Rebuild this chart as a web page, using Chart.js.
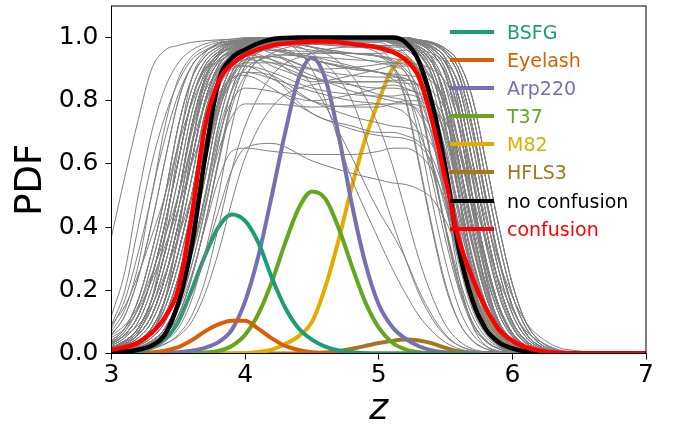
<!DOCTYPE html>
<html>
<head>
<meta charset="utf-8">
<script src="https://cdn.jsdelivr.net/npm/chart.js@4.4.1/dist/chart.umd.min.js"></script>
<style>
  body{margin:0;background:#fff;}
  #wrap{position:relative;width:678px;height:428px;}
  #legend{position:absolute;left:450px;top:0;font-family:'DejaVu Sans',sans-serif;font-size:19px;}
  .row{position:absolute;left:0;height:28px;white-space:nowrap;}
  .row i{position:absolute;left:0;width:44px;height:4px;top:12px;}
  .row span{position:absolute;left:57px;top:0;line-height:28px;}
</style>
</head>
<body>
<div id="wrap">
  <canvas id="chart" width="678" height="428"></canvas>
  <div id="legend"></div>
</div>
<script>
//#region data
// z grid for the source curves
var zFine = [3.0,3.1,3.2,3.3,3.4,3.5,3.6,3.7,3.8,3.9,4.0,4.1,4.2,4.3,4.4,4.5,4.6,4.7,4.8,4.9,5.0,5.1,5.2,5.3,5.4,5.5,5.6,5.7,5.8,5.9,6.0,6.1,6.2,6.3,6.4,6.5,6.6,6.7,6.8,6.9,7.0]

var seriesNames = ['BSFG', 'Eyelash', 'Arp220', 'T37', 'M82', 'HFLS3', 'no confusion', 'confusion']
var seriesColors = ['#1b9e77', '#d95f02', '#7570b3', '#66a61e', '#e6ab02', '#a6761d', '#000000', '#ff0000']

var bsfg    = [0,.002,.006,.018,.045,.1,.2,.31,.4,.44,.42,.35,.24,.145,.08,.044,.022,.01,.004,.001,0,0,0,0,0,0,0,0,0,0,0,0,0,0,0,0,0,0,0,0,0]
var eyelash = [0,0,.001,.003,.009,.02,.042,.07,.092,.104,.104,.078,.048,.024,.011,.004,.001,0,0,0,0,0,0,0,0,0,0,0,0,0,0,0,0,0,0,0,0,0,0,0,0]
var arp220  = [0,0,0,.001,.002,.004,.009,.018,.036,.075,.165,.31,.5,.7,.87,.936,.87,.69,.47,.285,.155,.085,.047,.023,.01,.004,.001,0,0,0,0,0,0,0,0,0,0,0,0,0,0]
var t37     = [0,0,0,0,0,0,.001,.003,.008,.024,.059,.126,.227,.35,.459,.513,.49,.397,.275,.162,.082,.035,.013,.004,.001,0,0,0,0,0,0,0,0,0,0,0,0,0,0,0,0]
var m82     = [0,0,0,0,0,0,0,0,0,0,.001,.005,.012,.03,.055,.1,.21,.36,.53,.68,.8,.9,.935,.885,.76,.57,.345,.2,.11,.055,.025,.011,.004,.001,0,0,0,0,0,0,0]
var hfls3   = [0,0,0,0,0,0,0,0,0,0,0,0,0,0,0,.001,.003,.008,.015,.024,.033,.04,.044,.041,.032,.018,.007,.002,0,0,0,0,0,0,0,0,0,0,0,0,0]
var noConf  = [.003,.006,.012,.025,.06,.16,.34,.62,.86,.935,.962,.982,.995,.999,1,1,1,1,1,1,1,1,.985,.925,.79,.585,.33,.17,.078,.035,.016,.006,.002,.001,0,0,0,0,0,0,0]
var conf    = [.012,.02,.035,.065,.115,.205,.435,.72,.86,.915,.945,.963,.975,.981,.985,.988,.988,.985,.98,.975,.968,.955,.93,.875,.735,.55,.36,.24,.145,.076,.04,.02,.009,.003,.001,0,0,0,0,0,0]

// z grid for the grey realisations
var zGray = [3.0,3.1,3.2,3.3,3.4,3.5,3.6,3.7,3.8,3.9,4.0,4.2,4.5,4.8,5.0,5.1,5.2,5.3,5.4,5.5,5.6,5.7,5.8,5.9,6.0,6.1,6.2,6.4,7.0]

var grayCurves = [
  [.04,.08,.17,.32,.5,.72,.87,.94,.97,.985,.99,1,1,1,1,.99,.98,.95,.88,.72,.5,.3,.15,.065,.025,.008,.003,0,0],
  [.03,.06,.12,.24,.41,.61,.8,.91,.955,.98,.988,.995,1,1,1,1,.99,.98,.95,.88,.72,.5,.3,.15,.065,.025,.008,.001,0],
  [.02,.04,.08,.17,.32,.5,.72,.87,.94,.97,.985,.995,1,1,1,.993,.985,.965,.92,.81,.61,.4,.22,.1,.042,.015,.005,.001,0],
  [.014,.03,.06,.12,.24,.41,.61,.8,.91,.955,.98,.995,1,1,1,1,.993,.985,.965,.92,.81,.61,.4,.22,.1,.042,.015,.002,0],
  [.01,.02,.04,.08,.17,.32,.5,.72,.87,.94,.97,.99,1,1,1,1,1,.99,.98,.95,.88,.72,.5,.3,.15,.065,.025,.003,0],
  [.03,.06,.12,.24,.41,.61,.8,.9,.945,.965,.975,.98,.98,.98,.975,.965,.945,.9,.79,.6,.39,.215,.1,.041,.015,.005,.002,0,0],
  [.02,.04,.08,.17,.32,.5,.72,.87,.94,.97,.985,.995,1,1,1,1,1,.99,.98,.95,.88,.72,.5,.3,.15,.065,.025,.003,0],
  [.014,.03,.06,.12,.24,.41,.61,.8,.91,.955,.98,.99,.995,.995,.995,.985,.975,.945,.875,.715,.5,.3,.15,.065,.025,.008,.003,0,0],
  [.01,.02,.04,.08,.17,.32,.5,.72,.87,.94,.97,.99,1,1,1,1,.99,.98,.95,.88,.72,.5,.3,.15,.065,.025,.008,.001,0],
  [.007,.014,.03,.06,.12,.24,.41,.61,.8,.91,.955,.985,1,1,1,1,.993,.985,.965,.92,.81,.61,.4,.22,.1,.042,.015,.002,0],
  [.04,.08,.17,.32,.5,.72,.87,.94,.97,.985,.99,1,1,1,1,1,1,.993,.985,.965,.92,.81,.61,.4,.22,.1,.042,.006,0],
  [.02,.04,.08,.17,.32,.5,.72,.87,.94,.97,.985,.99,.99,.99,.99,.98,.95,.88,.72,.5,.3,.15,.065,.025,.008,.003,.001,0,0],
  [.014,.03,.06,.12,.24,.41,.61,.8,.91,.955,.98,.995,1,1,1,1,.99,.98,.95,.88,.72,.5,.3,.15,.065,.025,.008,.001,0],
  [.01,.02,.04,.08,.17,.32,.5,.72,.87,.94,.97,.99,.995,1,1,.993,.985,.965,.92,.81,.61,.4,.22,.1,.042,.015,.005,.001,0],
  [.007,.014,.03,.06,.12,.24,.41,.61,.8,.91,.955,.985,.995,1,1,.99,.98,.95,.88,.72,.5,.3,.15,.065,.025,.008,.003,0,0],
  [.005,.01,.02,.04,.08,.17,.32,.5,.72,.87,.94,.98,.995,1,1,1,.99,.98,.95,.88,.72,.5,.3,.15,.065,.025,.008,.001,0],
  [.03,.06,.12,.24,.41,.61,.8,.91,.955,.98,.988,1,1,1,1,1,.993,.985,.965,.92,.81,.61,.4,.22,.1,.042,.015,.002,0],
  [.06,.12,.24,.41,.61,.8,.91,.955,.98,.988,.993,1,1,1,1,.993,.985,.965,.92,.81,.61,.4,.22,.1,.042,.015,.005,.001,0],
  [.02,.04,.08,.17,.32,.5,.72,.87,.94,.97,.985,.995,.995,.995,1,.99,.98,.95,.88,.72,.5,.3,.15,.065,.025,.008,.003,0,0],
  [.014,.03,.06,.12,.24,.41,.61,.8,.91,.955,.98,.995,1,1,1,1,1,.99,.98,.95,.88,.72,.5,.3,.15,.065,.025,.003,0],
  [.01,.02,.04,.08,.17,.32,.5,.72,.87,.94,.97,.99,.99,.99,.99,.985,.965,.92,.81,.61,.4,.22,.1,.042,.015,.005,.002,0,0],
  [.007,.014,.03,.06,.12,.24,.41,.61,.8,.91,.955,.985,1,1,1,1,1,.99,.98,.95,.88,.72,.5,.3,.15,.065,.025,.003,0],
  [.005,.01,.02,.04,.08,.17,.32,.5,.72,.87,.94,.98,.99,.995,.995,.993,.985,.965,.92,.81,.61,.4,.22,.1,.042,.015,.005,.001,0],
  [.08,.17,.32,.5,.72,.87,.94,.97,.985,.99,.995,1,1,1,1,1,.99,.98,.95,.88,.72,.5,.3,.15,.065,.025,.008,.001,0],
  [.04,.08,.17,.32,.5,.72,.87,.94,.97,.985,.99,1,1,1,1,1,.993,.985,.965,.92,.81,.61,.4,.22,.1,.042,.015,.002,0],
  [.004,.007,.014,.03,.06,.12,.24,.41,.61,.8,.91,.97,.99,1,1,1,.993,.985,.965,.92,.81,.61,.4,.22,.1,.042,.015,.002,0],
  [.02,.04,.08,.17,.32,.5,.72,.87,.94,.97,.985,1,1,1,1,1,.99,.98,.95,.88,.72,.5,.3,.15,.065,.025,.008,.001,0],
  [.014,.03,.06,.12,.24,.41,.61,.8,.91,.955,.98,.995,1,1,1,.993,.985,.965,.92,.81,.61,.4,.22,.1,.042,.015,.005,.001,0],
  [.03,.06,.12,.24,.41,.61,.8,.91,.955,.98,.988,.99,.99,.985,.985,.965,.92,.81,.61,.4,.22,.1,.042,.015,.005,.002,.001,0,0],
  [.01,.02,.04,.08,.17,.32,.5,.72,.87,.94,.97,.99,1,1,1,1,.993,.985,.965,.92,.81,.61,.4,.22,.1,.042,.015,.002,0],
  [.007,.014,.03,.06,.12,.24,.41,.61,.8,.91,.955,.985,1,1,1,1,1,.993,.985,.965,.92,.81,.61,.4,.22,.1,.042,.006,0],
  [.03,.06,.12,.24,.41,.61,.8,.91,.955,.98,.988,1,1,1,1,1,1,.99,.98,.95,.88,.72,.5,.3,.15,.065,.025,.003,0],
  [.02,.04,.08,.17,.32,.5,.72,.87,.94,.97,.985,.995,1,1,1,1,.993,.985,.965,.92,.81,.61,.4,.22,.1,.042,.015,.002,0],
  [.004,.007,.014,.03,.06,.12,.24,.41,.61,.8,.91,.97,.99,1,1,1,1,.993,.985,.965,.92,.81,.61,.4,.22,.1,.042,.006,0],
  [.02,.04,.08,.17,.32,.5,.72,.86,.93,.96,.975,.96,.93,.9,.89,.88,.87,.845,.78,.64,.445,.27,.13,.058,.022,.007,.003,0,0],
  [.014,.03,.06,.12,.24,.41,.61,.79,.89,.93,.945,.93,.88,.83,.81,.8,.79,.77,.7,.55,.36,.2,.09,.038,.014,.005,.002,0,0],
  [.01,.02,.04,.08,.17,.32,.5,.7,.85,.91,.93,.92,.87,.85,.84,.84,.835,.825,.8,.74,.6,.42,.25,.125,.055,.021,.007,.001,0],
  [.007,.014,.03,.06,.12,.24,.41,.6,.77,.86,.89,.87,.83,.8,.79,.78,.76,.7,.58,.4,.24,.12,.052,.02,.006,.002,.001,0,0],
  [.005,.01,.02,.04,.08,.17,.32,.49,.68,.8,.84,.83,.8,.82,.84,.85,.84,.82,.78,.69,.52,.34,.19,.085,.036,.013,.004,.001,0],
  [.03,.06,.12,.24,.41,.61,.8,.9,.945,.965,.97,.965,.93,.905,.89,.87,.83,.73,.55,.36,.2,.09,.038,.014,.005,.002,.001,0,0],
  [.02,.04,.08,.17,.32,.5,.71,.85,.92,.95,.96,.96,.955,.95,.94,.91,.845,.69,.48,.29,.145,.062,.024,.008,.003,.001,0,0,0],
  [.014,.03,.06,.12,.24,.41,.61,.8,.91,.955,.98,.99,.985,.98,.965,.92,.81,.61,.4,.22,.1,.042,.015,.005,.002,.001,0,0,0],
  [.01,.02,.04,.08,.17,.32,.5,.71,.86,.93,.94,.88,.76,.72,.7,.7,.69,.67,.62,.5,.35,.21,.1,.045,.017,.006,.002,0,0],
  [.003,.006,.012,.025,.05,.1,.19,.31,.45,.58,.65,.665,.61,.57,.55,.54,.535,.52,.49,.42,.32,.2,.1,.045,.018,.006,.002,0,0],
  [.004,.008,.016,.035,.07,.14,.25,.4,.55,.64,.65,.64,.63,.63,.64,.65,.65,.63,.58,.48,.35,.22,.11,.05,.02,.007,.002,0,0],
  [.014,.03,.06,.12,.24,.41,.61,.8,.91,.955,.98,.99,.9,.55,.36,.27,.19,.12,.07,.035,.015,.006,.002,0,0,0,0,0,0],
  [.01,.02,.04,.08,.17,.32,.5,.72,.87,.94,.97,.98,.95,.8,.55,.42,.3,.19,.11,.055,.025,.01,.003,0,0,0,0,0,0],
  [.02,.04,.08,.17,.32,.5,.72,.87,.94,.97,.985,.99,.97,.88,.72,.6,.45,.3,.18,.09,.04,.015,.005,0,0,0,0,0,0],
  [.007,.014,.03,.06,.12,.24,.41,.61,.79,.89,.93,.94,.85,.62,.45,.38,.3,.2,.12,.06,.025,.01,.003,0,0,0,0,0,0],
  [.37,.56,.74,.9,.96,.975,.985,.99,.993,.995,.997,1,1,1,1,.99,.98,.95,.88,.72,.5,.3,.15,.065,.025,.008,.003,0,0],
  [.09,.2,.4,.6,.75,.86,.93,.96,.98,.99,.995,1,1,1,1,1,.99,.98,.95,.88,.72,.5,.3,.15,.065,.025,.008,.001,0],
  [.07,.14,.28,.5,.68,.82,.91,.955,.975,.985,.99,.99,.98,.97,.965,.955,.935,.895,.79,.59,.39,.215,.1,.041,.015,.005,.002,0,0],
  [.12,.26,.5,.7,.84,.92,.96,.98,.99,.995,1,1,1,1,1,.993,.985,.965,.92,.81,.61,.4,.22,.1,.042,.015,.005,.001,0],
  [.06,.12,.24,.41,.61,.8,.91,.955,.98,.988,.99,.99,.97,.95,.94,.93,.9,.835,.685,.475,.285,.14,.062,.024,.008,.003,.001,0,0],
  [.002,.004,.008,.015,.03,.06,.12,.23,.4,.58,.72,.88,.95,.97,.97,.97,.97,.96,.95,.92,.855,.7,.485,.29,.145,.063,.024,.003,0],
  [.002,.004,.008,.015,.03,.055,.1,.19,.32,.48,.62,.78,.85,.86,.86,.86,.855,.85,.83,.77,.64,.46,.28,.14,.06,.022,.007,.001,0],
  [.003,.005,.01,.02,.04,.08,.17,.32,.5,.72,.87,.95,.98,.99,1,1,.993,.985,.965,.92,.81,.61,.4,.22,.1,.042,.015,.002,0],
  [.035,.07,.145,.28,.455,.665,.835,.925,.963,.983,.989,.995,1,1,.996,.988,.982,.958,.9,.765,.555,.35,.185,.083,.033,.012,.004,0,0],
  [.025,.05,.1,.205,.365,.555,.76,.89,.948,.975,.987,.995,.995,1,1,.993,.987,.973,.935,.845,.665,.45,.26,.125,.053,.02,.007,.001,0],
  [.017,.035,.07,.145,.28,.455,.665,.835,.925,.963,.983,.99,1,1,1,.996,.988,.982,.958,.9,.765,.555,.35,.185,.083,.033,.012,.001,0],
  [.012,.025,.05,.1,.205,.365,.555,.76,.89,.948,.975,.99,1,1,1,1,.993,.987,.973,.935,.845,.665,.45,.26,.125,.053,.02,.002,0],
  [.008,.017,.035,.07,.145,.28,.455,.665,.835,.925,.963,.985,.995,1,1,1,.996,.988,.982,.958,.9,.765,.555,.35,.185,.083,.033,.004,0],
  [.006,.012,.025,.05,.1,.205,.365,.555,.76,.89,.948,.98,.995,1,1,.993,.987,.973,.935,.845,.665,.45,.26,.125,.053,.02,.007,.001,0],
  [.004,.008,.017,.035,.07,.145,.28,.455,.665,.835,.925,.975,.99,1,1,1,.993,.987,.973,.935,.845,.665,.45,.26,.125,.053,.02,.002,0],
  [.057,.09,.15,.25,.37,.5,.66,.79,.88,.93,.957,.985,.99,.99,.99,.988,.978,.957,.92,.85,.73,.58,.43,.29,.18,.1,.055,.013,0],
  [.034,.057,.09,.15,.25,.37,.5,.66,.79,.88,.93,.975,.985,.99,.99,.983,.963,.93,.87,.8,.66,.5,.36,.23,.14,.072,.04,.008,0],
  [.09,.15,.25,.37,.5,.66,.79,.88,.93,.957,.97,.985,.98,.975,.975,.975,.97,.95,.9,.765,.555,.35,.185,.083,.033,.012,.004,0,0],
  [.004,.01,.027,.065,.17,.38,.65,.87,.95,.982,.99,1,1,1,1,.995,.99,.97,.93,.78,.5,.245,.09,.025,.006,.001,0,0,0],
  [.002,.004,.01,.027,.065,.17,.38,.65,.87,.95,.982,.995,1,1,1,1,.995,.99,.97,.93,.78,.5,.245,.09,.025,.006,.001,0,0],
  [.01,.027,.065,.17,.38,.65,.87,.95,.982,.99,.995,1,1,1,.995,.99,.97,.93,.78,.5,.245,.09,.025,.006,.001,0,0,0,0],
  [.012,.025,.05,.1,.205,.365,.555,.76,.89,.948,.975,.99,.97,.95,.943,.934,.924,.888,.803,.632,.428,.247,.119,.05,.019,.007,.002,0,0],
  [.008,.017,.035,.07,.145,.28,.455,.665,.835,.925,.963,.98,.96,.95,.95,.955,.96,.955,.94,.89,.76,.55,.35,.185,.083,.033,.012,.001,0],
  [.017,.035,.07,.145,.28,.455,.665,.835,.925,.955,.97,.97,.93,.9,.89,.88,.86,.81,.69,.5,.315,.167,.075,.03,.011,.004,.001,0,0],
  [.006,.012,.025,.05,.1,.205,.365,.555,.76,.87,.92,.94,.9,.88,.875,.875,.87,.85,.81,.71,.54,.35,.19,.088,.037,.013,.004,.001,0],
  [.01,.02,.04,.08,.17,.32,.5,.7,.84,.9,.91,.89,.84,.82,.815,.815,.82,.81,.78,.7,.55,.36,.2,.095,.04,.015,.005,.001,0],
  [.02,.04,.08,.17,.32,.5,.7,.83,.89,.91,.91,.87,.8,.78,.78,.79,.8,.8,.76,.64,.46,.28,.14,.06,.024,.008,.003,0,0],
  [.005,.01,.02,.04,.08,.17,.32,.5,.7,.83,.9,.94,.95,.95,.94,.925,.89,.79,.6,.4,.22,.1,.042,.015,.005,.002,.001,0,0],
  [.035,.07,.145,.28,.455,.665,.835,.925,.963,.983,.989,1,1,1,1,1,.993,.987,.973,.935,.845,.665,.45,.26,.125,.053,.02,.002,0],
  [.025,.05,.1,.205,.365,.555,.76,.89,.948,.975,.987,1,1,1,1,1,.996,.988,.982,.958,.9,.765,.555,.35,.185,.083,.033,.004,0],
  [.017,.035,.07,.145,.28,.455,.665,.835,.925,.963,.983,.995,1,1,.996,.988,.982,.958,.9,.765,.555,.35,.185,.083,.033,.012,.004,0,0],
  [.012,.025,.05,.1,.205,.365,.555,.76,.89,.948,.975,.99,.995,.995,.995,.993,.988,.98,.958,.9,.765,.555,.35,.185,.083,.033,.012,.001,0],
  [.008,.017,.035,.07,.145,.28,.455,.665,.835,.925,.963,.985,1,1,.993,.983,.973,.935,.845,.665,.45,.26,.125,.053,.02,.007,.002,0,0],
  [.006,.012,.025,.05,.1,.205,.365,.555,.76,.89,.948,.985,1,1,1,1,.996,.988,.982,.958,.9,.765,.555,.35,.185,.083,.033,.004,0],
  [.004,.008,.017,.035,.07,.145,.28,.455,.665,.835,.925,.97,.985,.99,.99,.985,.98,.958,.9,.765,.555,.35,.185,.083,.033,.012,.004,0,0],
  [.004,.01,.027,.065,.17,.38,.65,.87,.95,.982,.99,1,1,1,1,1,.995,.99,.97,.93,.78,.5,.245,.09,.025,.006,.001,0,0],
  [.002,.004,.01,.027,.065,.17,.38,.65,.87,.95,.982,.99,1,1,1,.995,.99,.97,.93,.78,.5,.245,.09,.025,.006,.001,0,0,0],
  [.03,.06,.12,.24,.41,.61,.8,.91,.955,.98,.988,.995,.99,.975,.95,.91,.8,.6,.39,.21,.1,.04,.015,.005,.002,.001,0,0,0],
  [.014,.03,.06,.12,.24,.41,.61,.8,.9,.94,.955,.93,.86,.88,.9,.91,.91,.9,.87,.78,.6,.4,.22,.1,.042,.015,.005,.001,0],
  [.05,.08,.14,.23,.34,.46,.6,.72,.81,.87,.89,.88,.8,.75,.73,.72,.715,.7,.66,.56,.41,.26,.14,.065,.026,.009,.003,0,0],
  [.014,.03,.06,.12,.24,.41,.61,.8,.9,.945,.955,.91,.87,.86,.86,.865,.865,.85,.8,.68,.5,.31,.16,.07,.028,.01,.003,0,0],
  [.03,.06,.12,.24,.41,.61,.8,.9,.945,.97,.975,.95,.9,.85,.82,.81,.8,.76,.67,.5,.31,.16,.07,.028,.01,.003,.001,0,0],
  [.007,.014,.03,.06,.12,.24,.41,.6,.78,.88,.92,.92,.9,.905,.915,.92,.92,.915,.9,.86,.76,.57,.37,.2,.09,.036,.013,.002,0],
  [.01,.02,.04,.08,.17,.32,.5,.7,.82,.87,.88,.84,.76,.71,.69,.685,.68,.66,.6,.46,.3,.16,.07,.028,.01,.003,.001,0,0],
  [.004,.007,.014,.03,.06,.12,.24,.41,.6,.78,.88,.945,.94,.93,.925,.92,.915,.9,.87,.77,.58,.38,.21,.095,.04,.014,.005,.001,0],
  [.02,.04,.08,.17,.32,.5,.72,.87,.94,.97,.985,.99,.97,.94,.92,.91,.89,.8,.6,.39,.21,.1,.04,.015,.005,.002,.001,0,0],
  [.005,.01,.02,.04,.08,.17,.31,.47,.64,.75,.79,.79,.78,.785,.79,.79,.79,.785,.77,.73,.64,.47,.29,.15,.065,.025,.008,.001,0],
  [.014,.03,.06,.12,.24,.41,.61,.8,.91,.95,.965,.96,.94,.91,.89,.885,.88,.875,.86,.8,.67,.47,.28,.14,.06,.022,.008,.001,0]
]

var xTicks = [3, 4, 5, 6, 7]
var yTicks = [0, 0.2, 0.4, 0.6, 0.8, 1.0]
//#endregion

window.onload = function(){

  //#region datasets
  var FONT = "'DejaVu Sans', sans-serif"
  var sourceValues = [bsfg, eyelash, arp220, t37, m82, hfls3]

  function pts(xs, ys){
    return xs.map(function(x, i){ return {x: x, y: ys[i]} })
  }

  var datasets = []
  sourceValues.forEach(function(vals, i){
    datasets.push({label: seriesNames[i], data: pts(zFine, vals), borderColor: seriesColors[i], borderWidth: 4, order: 3})
  })
  grayCurves.forEach(function(row){
    datasets.push({label: '', data: pts(zGray, row), borderColor: '#808080', borderWidth: 1, order: 2})
  })
  datasets.push({label: seriesNames[6], data: pts(zFine, noConf), borderColor: seriesColors[6], borderWidth: 4.5, order: 1})
  datasets.push({label: seriesNames[7], data: pts(zFine, conf), borderColor: seriesColors[7], borderWidth: 4.5, order: 0})
  //#endregion

  //#region frame around the plot
  var frame = {
    id: 'frame',
    afterDraw: function(chart){
      var a = chart.chartArea, c = chart.ctx
      c.save()
      c.strokeStyle = '#000'
      c.lineWidth = 1
      c.strokeRect(a.left, a.top, a.right - a.left, a.bottom - a.top)
      c.restore()
    }
  }
  //#endregion

  var ReportChart = new Chart(document.getElementById('chart'), {
    type: 'line',
    data: {datasets: datasets},
    plugins: [frame],
    options: {
      responsive: false,
      animation: false,
      layout: {padding: {left: 0, top: 6, right: 32, bottom: 0}},
      elements: {point: {radius: 0}, line: {cubicInterpolationMode: 'monotone', fill: false}},
      plugins: {legend: {display: false}, tooltip: {enabled: false}},
      scales: {
        x: {
          type: 'linear', min: 3, max: 7,
          afterBuildTicks: function(s){ s.ticks = xTicks.map(function(v){ return {value: v} }) },
          afterFit: function(s){ s.height = 74.5; s.paddingLeft = 0; s.paddingRight = 0 },
          ticks: {font: {family: FONT, size: 25}, color: '#000', padding: 1, maxRotation: 0, autoSkip: false},
          grid: {drawOnChartArea: false, color: '#000', tickLength: 6},
          border: {color: '#000', width: 1},
          title: {display: true, text: 'z', color: '#000', font: {family: FONT, size: 36, style: 'italic', lineHeight: 1}, padding: {top: 0, bottom: 0}}
        },
        y: {
          min: 0, max: 1.1,
          afterBuildTicks: function(s){ s.ticks = yTicks.map(function(v){ return {value: v} }) },
          afterFit: function(s){ s.width = 111.5; s.paddingTop = 0; s.paddingBottom = 0 },
          ticks: {font: {family: FONT, size: 25}, color: '#000', padding: 7, callback: function(v){ return v.toFixed(1) }},
          grid: {drawOnChartArea: false, color: '#000', tickLength: 6},
          border: {color: '#000', width: 1},
          title: {display: true, text: 'PDF', color: '#000', font: {family: FONT, size: 37}, padding: {top: 9, bottom: 0}}
        }
      }
    }
  })

  //#region legend inside the plot
  var lg = document.getElementById('legend')
  seriesNames.forEach(function(name, i){
    var row = document.createElement('div')
    row.className = 'row'
    row.style.top = (17.7 + i * 28.14) + 'px'
    row.innerHTML = '<i style="background:' + seriesColors[i] + '"></i><span style="color:' + seriesColors[i] + '">' + name + '</span>'
    lg.appendChild(row)
  })
  //#endregion
}
</script>
</body>
</html>
